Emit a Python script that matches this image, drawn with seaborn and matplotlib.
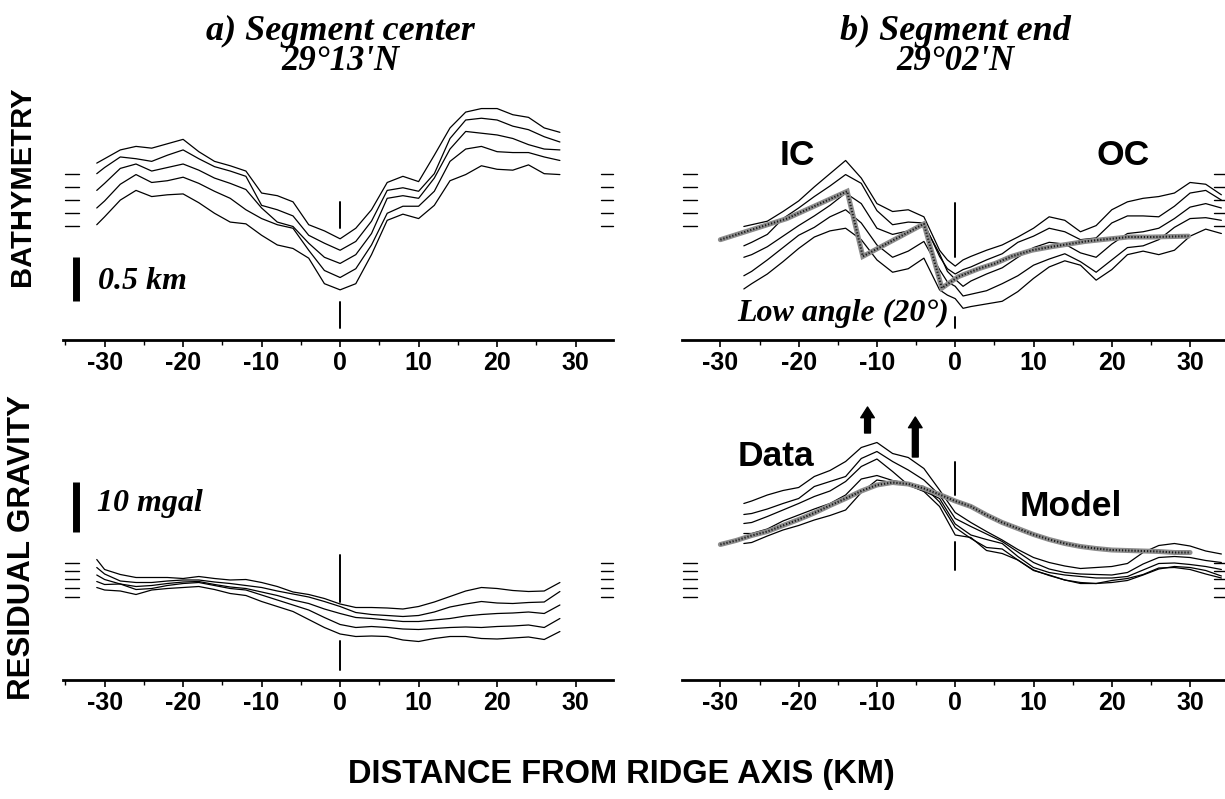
import numpy as np
import pandas as pd
import matplotlib
matplotlib.use('Agg')
import matplotlib.pyplot as plt
from matplotlib.ticker import MultipleLocator
import seaborn as sns

sns.set_style('ticks')
plt.rcParams['font.family'] = ['Liberation Sans', 'DejaVu Sans']
plt.rcParams['text.color'] = 'black'
plt.rcParams['xtick.color'] = 'black'
plt.rcParams['axes.edgecolor'] = 'black'
plt.rcParams['axes.labelcolor'] = 'black'
SERIF = ['Liberation Serif', 'DejaVu Serif']

# ---- a) 段中心 29°13'N ----
km_a = [-31, -30, -28, -26, -24, -22, -20, -18, -16, -14, -12, -10, -8, -6, -4, -2,
        0, 2, 4, 6, 8, 10, 12, 14, 16, 18, 20, 22, 24, 26, 28]

bathy_a = [
    [2.01, 2.06, 2.16, 2.20, 2.18, 2.23, 2.28, 2.14, 2.03, 1.98, 1.92, 1.67, 1.64, 1.57, 1.31, 1.24,
     1.15, 1.27, 1.48, 1.79, 1.86, 1.80, 2.10, 2.41, 2.59, 2.63, 2.63, 2.56, 2.53, 2.41, 2.36],
    [1.89, 1.96, 2.08, 2.06, 2.03, 2.10, 2.16, 2.06, 1.97, 1.92, 1.86, 1.53, 1.48, 1.41, 1.19, 1.10,
     1.02, 1.12, 1.35, 1.70, 1.73, 1.69, 1.89, 2.29, 2.50, 2.52, 2.50, 2.43, 2.39, 2.31, 2.25],
    [1.70, 1.78, 1.95, 2.00, 1.92, 1.96, 2.00, 1.93, 1.84, 1.78, 1.71, 1.50, 1.34, 1.29, 1.10, 0.94,
     0.87, 0.97, 1.21, 1.61, 1.64, 1.61, 1.84, 2.17, 2.37, 2.35, 2.33, 2.29, 2.22, 2.17, 2.16],
    [1.50, 1.58, 1.77, 1.88, 1.79, 1.81, 1.85, 1.78, 1.69, 1.61, 1.48, 1.38, 1.31, 1.27, 1.02, 0.79,
     0.71, 0.81, 1.08, 1.44, 1.52, 1.52, 1.69, 2.03, 2.17, 2.20, 2.14, 2.13, 2.13, 2.08, 2.04],
    [1.31, 1.40, 1.59, 1.70, 1.63, 1.65, 1.66, 1.56, 1.44, 1.34, 1.32, 1.19, 1.08, 1.04, 0.93, 0.64,
     0.57, 0.64, 0.97, 1.36, 1.43, 1.38, 1.53, 1.81, 1.88, 1.98, 1.94, 1.93, 1.99, 1.89, 1.88],
]

grav_a = [
    [24.1, 22.1, 21.1, 20.5, 20.5, 20.5, 20.3, 20.7, 20.3, 20.0, 20.1, 19.5, 18.7, 17.6, 17.1, 16.3,
     15.2, 14.5, 14.5, 14.4, 14.2, 14.7, 15.6, 16.7, 17.8, 18.5, 18.3, 17.9, 17.7, 17.8, 19.5],
    [22.5, 21.2, 19.8, 19.5, 19.5, 19.8, 20.0, 20.0, 19.6, 19.3, 18.9, 18.5, 17.8, 17.2, 16.6, 15.7,
     14.7, 13.5, 13.1, 12.9, 12.7, 12.9, 13.6, 14.6, 15.2, 15.7, 15.4, 15.3, 15.5, 15.6, 17.7],
    [21.0, 20.1, 19.2, 18.7, 18.9, 19.3, 19.6, 19.7, 19.1, 18.6, 18.3, 17.6, 16.9, 16.0, 15.3, 14.2,
     13.3, 12.5, 12.3, 12.0, 11.7, 11.7, 12.0, 12.3, 12.8, 13.1, 13.3, 13.4, 13.6, 13.3, 15.0],
    [19.7, 19.1, 19.2, 18.1, 18.3, 18.9, 19.3, 19.5, 18.9, 18.3, 18.0, 17.0, 16.0, 15.0, 14.0, 12.5,
     11.1, 10.5, 10.7, 10.5, 10.2, 10.1, 10.3, 10.5, 10.6, 10.5, 10.7, 10.8, 11.0, 10.5, 12.3],
    [18.5, 18.0, 17.8, 17.1, 18.0, 18.3, 18.5, 18.7, 18.1, 17.3, 16.9, 15.7, 14.7, 13.7, 12.1, 10.5,
     9.2, 8.7, 8.8, 8.7, 8.0, 7.7, 8.3, 8.7, 8.7, 8.3, 8.2, 8.4, 8.6, 8.1, 9.7],
]

# ---- b) 段末端 29°02'N ----
km_b_bathy = [-27, -26, -24, -22, -20, -18, -16, -14, -12, -10, -8, -6, -4, -2, -1, 0, 1,
              2, 4, 6, 8, 10, 12, 14, 16, 18, 20, 22, 24, 26, 28, 30, 32, 34]

bathy_b = [
    [1.29, 1.31, 1.35, 1.46, 1.58, 1.74, 1.89, 2.04, 1.84, 1.55, 1.46, 1.48, 1.40, 1.02, 0.91, 0.84, 0.91,
     0.95, 1.02, 1.08, 1.17, 1.27, 1.40, 1.36, 1.23, 1.30, 1.48, 1.57, 1.61, 1.63, 1.67, 1.79, 1.77, 1.65],
    [1.07, 1.11, 1.20, 1.38, 1.50, 1.63, 1.75, 1.88, 1.78, 1.47, 1.31, 1.34, 1.33, 0.95, 0.81, 0.75, 0.80,
     0.83, 0.91, 0.98, 1.11, 1.18, 1.27, 1.23, 1.14, 1.16, 1.33, 1.41, 1.41, 1.40, 1.52, 1.67, 1.70, 1.59],
    [0.94, 0.97, 1.06, 1.18, 1.30, 1.41, 1.53, 1.67, 1.55, 1.27, 1.20, 1.24, 1.31, 0.98, 0.78, 0.69, 0.61,
     0.67, 0.75, 0.82, 0.94, 1.05, 1.11, 1.09, 0.99, 0.94, 1.09, 1.21, 1.23, 1.27, 1.38, 1.51, 1.55, 1.50],
    [0.73, 0.78, 0.91, 1.05, 1.19, 1.28, 1.40, 1.48, 1.33, 1.08, 0.94, 1.01, 1.12, 0.80, 0.66, 0.61, 0.50,
     0.52, 0.56, 0.64, 0.73, 0.85, 0.92, 0.98, 0.89, 0.77, 0.91, 1.05, 1.07, 1.14, 1.28, 1.38, 1.39, 1.36],
    [0.58, 0.64, 0.75, 0.89, 1.04, 1.17, 1.24, 1.27, 1.14, 0.91, 0.77, 0.81, 0.93, 0.57, 0.51, 0.47, 0.36,
     0.38, 0.41, 0.44, 0.55, 0.70, 0.83, 0.90, 0.85, 0.68, 0.80, 0.97, 1.01, 0.97, 1.02, 1.18, 1.26, 1.21],
]

# 低角度断层模型 (20°)
model_bathy_km = [-30, -21.5, -13.8, -11.8, -4.0, -1.7, 0.4, 3.0, 5.1, 7.2, 9.8, 12.3, 14.5, 16.6, 18.7, 22.1, 25.1, 29.8]
model_bathy = [1.14, 1.38, 1.69, 0.95, 1.32, 0.59, 0.72, 0.81, 0.87, 0.95, 1.02, 1.06, 1.09, 1.12, 1.14, 1.17, 1.17, 1.18]

km_b_grav = [-27, -26, -24, -22, -20, -18, -16, -14, -12, -10, -8, -6, -4, -2,
             0, 2, 4, 6, 8, 10, 12, 14, 16, 18, 20, 22, 24, 26, 28, 30, 32, 34]

grav_b = [
    [35.3, 35.8, 37.0, 37.9, 38.5, 40.7, 41.9, 43.7, 46.5, 47.5, 45.3, 44.5, 42.3, 38.0,
     33.5, 31.5, 29.7, 28.0, 26.1, 24.5, 23.5, 22.8, 22.3, 22.5, 22.7, 23.3, 25.5, 26.9, 27.3, 26.8, 25.8, 25.2],
    [33.1, 33.3, 34.2, 35.3, 36.3, 38.7, 39.7, 40.7, 44.3, 45.7, 43.7, 42.0, 40.0, 37.0,
     32.3, 30.7, 29.2, 27.7, 25.6, 23.5, 22.2, 21.5, 21.2, 21.1, 21.0, 21.5, 23.2, 24.5, 24.7, 24.5, 23.9, 23.5],
    [31.3, 31.5, 32.7, 34.0, 35.3, 36.7, 37.8, 39.7, 42.7, 44.2, 41.7, 39.0, 37.8, 36.3,
     31.2, 29.0, 28.1, 27.3, 24.7, 22.5, 21.5, 21.0, 20.7, 20.4, 20.4, 20.7, 22.0, 23.3, 23.4, 23.1, 22.7, 22.1],
    [29.3, 29.3, 30.2, 31.8, 33.0, 34.2, 35.3, 37.0, 40.2, 40.9, 39.9, 39.3, 38.7, 35.6,
     30.5, 28.3, 26.5, 26.2, 24.0, 22.0, 20.9, 20.0, 19.5, 19.3, 19.5, 19.9, 21.0, 22.2, 22.7, 22.5, 21.9, 20.8],
    [27.3, 27.5, 28.8, 30.0, 30.9, 32.0, 32.9, 34.0, 37.5, 40.0, 39.5, 39.0, 37.7, 34.7,
     29.0, 28.5, 25.9, 25.3, 24.0, 21.9, 21.0, 20.0, 19.3, 19.3, 19.9, 20.3, 21.1, 22.4, 22.5, 22.1, 21.2, 20.4],
]

model_grav_km = [-30, -28, -26, -24, -22, -20, -18, -16, -14, -12, -10, -8, -6, -4, -2,
                 0, 2, 4, 6, 8, 10, 12, 14, 16, 18, 20, 22, 24, 26, 28, 30]
model_grav = [27.1, 27.9, 28.9, 29.7, 30.9, 32.1, 33.4, 34.9, 36.3, 37.8, 39.0, 39.5, 39.2, 38.3, 37.1,
              35.8, 34.7, 33.0, 31.5, 30.3, 29.1, 28.1, 27.3, 26.7, 26.3, 26.0, 25.9, 25.8, 25.7, 25.5, 25.5]

# 各剖面参考水平 (左右两侧的短横线)
ref_bathy = [1.89, 1.74, 1.59, 1.44, 1.30]
ref_grav = [23.4, 21.8, 20.2, 18.4, 16.6]

# 轴线 (0 km) 标记
axis_mark_bathy_a = [(1.57, 1.27), (0.43, 0.14)]
axis_mark_bathy_b = [(1.56, 0.94), (0.26, 0.14)]
axis_mark_grav_a = [(25.0, 15.6), (7.8, 2.0)]
axis_mark_grav_b = [(43.6, 37.0), (27.6, 22.0)]

# 比例尺
scale_bathy = (0.44, 0.94)   # 0.5 km
scale_grav = (29.6, 39.6)    # 10 mgal

# 箭头 (重力高位置)
arrows_km = [-11.2, -5.1]
arrows_y = [(49.4, 54.6), (44.6, 52.6)]


def to_long(km, rows, name):
    frames = []
    for i, r in enumerate(rows):
        frames.append(pd.DataFrame({'km': km, name: r, 'profile': i}))
    return pd.concat(frames, ignore_index=True)


W, H = 1225, 799
fig = plt.figure(figsize=(W / 100, H / 100), dpi=100)

left_x, right_x = 63 / W, 682 / W
pw_left, pw_right = 549.5 / W, 548 / W
top_b, top_h = (H - 340) / H, 245 / H
bot_b, bot_h = (H - 680) / H, 280 / H

ax_ta = fig.add_axes([left_x, top_b, pw_left, top_h])
ax_tb = fig.add_axes([right_x, top_b, pw_right, top_h])
ax_ba = fig.add_axes([left_x, bot_b, pw_left, bot_h])
ax_bb = fig.add_axes([right_x, bot_b, pw_right, bot_h])

for ax, xl in [(ax_ta, (-35.3, 34.7)), (ax_ba, (-35.3, 34.7)), (ax_tb, (-34.9, 35.1)), (ax_bb, (-34.9, 35.1))]:
    ax.set_xlim(*xl)
    ax.set_facecolor('none')
ax_ta.set_ylim(0, 245 / 88)
ax_tb.set_ylim(0, 245 / 88)
ax_ba.set_ylim(0, 56)
ax_bb.set_ylim(0, 56)

# 剖面
for ax, km, rows in [(ax_ta, km_a, bathy_a), (ax_tb, km_b_bathy, bathy_b),
                     (ax_ba, km_a, grav_a), (ax_bb, km_b_grav, grav_b)]:
    df = to_long(km, rows, 'val')
    sns.lineplot(data=df, x='km', y='val', units='profile', estimator=None, sort=False,
                 color='black', lw=0.9, ax=ax, legend=False, clip_on=False)

# 模型曲线 (灰色网点粗线)
for ax, mx, my in [(ax_tb, model_bathy_km, model_bathy), (ax_bb, model_grav_km, model_grav)]:
    mdf = pd.DataFrame({'km': mx, 'val': my})
    sns.lineplot(data=mdf, x='km', y='val', sort=False, color='#8c8c8c', lw=3.6, ax=ax,
                 solid_joinstyle='miter', zorder=3)
    ax.plot(mx, my, color='#1a1a1a', lw=1.5, ls=(0, (0.6, 0.9)), zorder=4)

# 参考短横线
for ax, refs, spans in [(ax_ta, ref_bathy, [(-35.1, -33.2), (33.2, 34.7)]),
                        (ax_ba, ref_grav, [(-35.1, -33.2), (33.2, 34.7)]),
                        (ax_tb, ref_bathy, [(-34.8, -33.0), (33.1, 34.6)]),
                        (ax_bb, ref_grav, [(-34.8, -33.0), (33.1, 34.6)])]:
    for lv in refs:
        for x0, x1 in spans:
            ax.plot([x0, x1], [lv, lv], color='black', lw=1.0, clip_on=False)

# 0 km 处标记
for ax, marks in [(ax_ta, axis_mark_bathy_a), (ax_tb, axis_mark_bathy_b),
                  (ax_ba, axis_mark_grav_a), (ax_bb, axis_mark_grav_b)]:
    for y0, y1 in marks:
        ax.plot([0, 0], [y0, y1], color='black', lw=1.4)

# 比例尺
ax_ta.plot([-33.6, -33.6], scale_bathy, color='black', lw=5, solid_capstyle='butt')
ax_ta.text(-30.9, 0.58, '0.5 km', family=SERIF, style='italic', weight='bold', fontsize=23,
           ha='left', va='baseline')
ax_ba.plot([-33.6, -33.6], scale_grav, color='black', lw=5, solid_capstyle='butt')
ax_ba.text(-31.0, 33.8, '10 mgal', family=SERIF, style='italic', weight='bold', fontsize=23,
           ha='left', va='baseline')

# 标注
ax_tb.text(-20.2, 2.10, 'IC', fontsize=25.5, weight='bold', ha='center', va='center')
ax_tb.text(21.5, 2.10, 'OC', fontsize=25.5, weight='bold', ha='center', va='center')
ax_tb.text(-14.3, 0.22, 'Low angle (20°)', family=SERIF, style='italic', weight='bold',
           fontsize=23, ha='center', va='baseline')
ax_bb.text(-22.9, 44.8, 'Data', fontsize=25.5, weight='bold', ha='center', va='center')
ax_bb.text(14.8, 34.6, 'Model', fontsize=25.5, weight='bold', ha='center', va='center')
for xk, (y0, y1) in zip(arrows_km, arrows_y):
    ax_bb.annotate('', xy=(xk, y1), xytext=(xk, y0),
                   arrowprops=dict(arrowstyle='simple,head_length=0.55,head_width=0.7,tail_width=0.3',
                                   color='black', mutation_scale=14, shrinkA=0, shrinkB=0))

# 坐标轴样式
for ax in [ax_ta, ax_tb, ax_ba, ax_bb]:
    for s in ['left', 'right', 'top']:
        ax.spines[s].set_visible(False)
    ax.spines['bottom'].set_linewidth(2.0)
    ax.set_yticks([])
    ax.xaxis.set_minor_locator(MultipleLocator(5))
    ax.tick_params(axis='x', which='major', direction='out', length=5, width=1.2, pad=3, colors='black')
    ax.tick_params(axis='x', which='minor', direction='out', length=3.5, width=1.0, colors='black')
    ax.set_xticks([-30, -20, -10, 0, 10, 20, 30])
    ax.set_xticklabels(['-30', '-20', '-10', '0', '10', '20', '30'], fontweight='bold', fontsize=18)
    ax.set_xlabel('')
    ax.set_ylabel('')

# 标题与轴标签
for xc, t1, t2 in [(340.5, 'a) Segment center', "29°13'N"), (955, 'b) Segment end', "29°02'N")]:
    fig.text(xc / W, 1 - 31 / H, t1, family=SERIF, style='italic', weight='bold', fontsize=26,
             ha='center', va='center')
    fig.text(xc / W, 1 - 61 / H, t2, family=SERIF, style='italic', weight='bold', fontsize=25,
             ha='center', va='center')

fig.text(22 / W, 1 - 186 / H, 'BATHYMETRY', rotation=90, fontsize=21, weight='bold',
         ha='center', va='center')
fig.text(22 / W, 1 - 548 / H, 'RESIDUAL GRAVITY', rotation=90, fontsize=22.5, weight='bold',
         ha='center', va='center')
fig.text(621 / W, 1 - 775 / H, 'DISTANCE FROM RIDGE AXIS (KM)', fontsize=23.5, weight='bold',
         ha='center', va='center')

fig.savefig('out.png', dpi=100, facecolor='white')
